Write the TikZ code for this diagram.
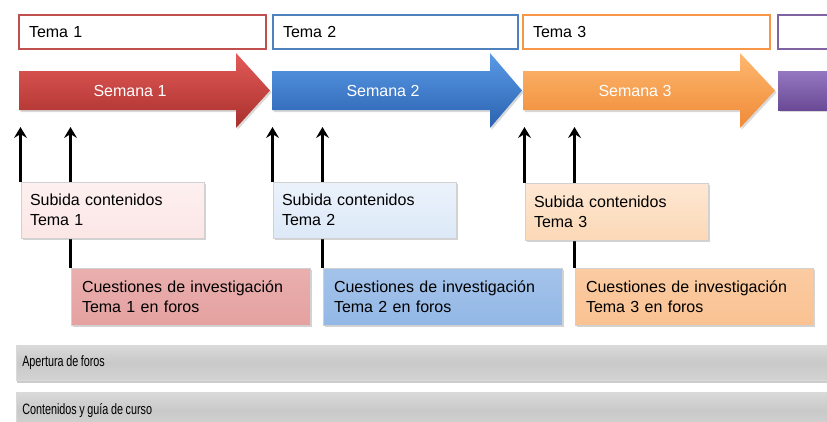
\documentclass[tikz,border=0pt]{standalone}
\usepackage{fontspec}
\usepackage{graphicx}
\setmainfont{Liberation Sans}
\usetikzlibrary{arrows.meta,shadows}
\newcommand{\narrowtext}[1]{\scalebox{0.72}[1]{\fontsize{15}{17}\selectfont\spaceskip=0.24em #1}}
\definecolor{temared}{HTML}{C0504D}
\definecolor{temablue}{HTML}{4F81BD}
\definecolor{temaorange}{HTML}{F79646}
\definecolor{temapurple}{HTML}{8064A2}
\definecolor{redtop}{HTML}{E35A57}
\definecolor{redbot}{HTML}{A8302D}
\definecolor{bluetop}{HTML}{5A9AE6}
\definecolor{bluebot}{HTML}{2A62B0}
\definecolor{orangetop}{HTML}{FDB870}
\definecolor{orangebot}{HTML}{F08A36}
\definecolor{purpletop}{HTML}{9577C0}
\definecolor{purplebot}{HTML}{6A4A96}
\definecolor{subred}{HTML}{FCE6E6}
\definecolor{subblue}{HTML}{DDE9F8}
\definecolor{suborange}{HTML}{FCD8B6}
\definecolor{qred}{HTML}{E5A1A0}
\definecolor{qblue}{HTML}{93B8E6}
\definecolor{qorange}{HTML}{FAC292}
\definecolor{graybar}{HTML}{C9C9C9}
\pgfdeclarelayer{bg}
\pgfsetlayers{bg,main}
\begin{document}
\begin{tikzpicture}[x=1pt,y=-1pt,
  font=\fontsize{16}{20}\selectfont,
  tema/.style={draw, line width=2pt, fill=white, anchor=north west, minimum height=34pt,
    inner xsep=10pt, inner ysep=0pt, align=left, outer sep=0pt},
  infobox/.style={anchor=north west, inner xsep=9pt, inner ysep=0pt, align=left, outer sep=0pt,
    draw=black!18, line width=0.6pt,
    drop shadow={opacity=0.35, shadow xshift=1.5pt, shadow yshift=-2pt}},
  semana/.style={drop shadow={opacity=0.3, shadow xshift=1.5pt, shadow yshift=-2pt}},
  semtext/.style={text=white},
  upline/.style={line width=2.7pt, -{Stealth[length=11pt,width=13pt,inset=4pt]}},
  bar/.style={anchor=north west, minimum width=830pt, inner xsep=6pt, inner ysep=0pt,
    text width=818pt, align=left, top color=graybar!70, bottom color=graybar!105!black,
    middle color=graybar, draw=black!15, line width=0.5pt,
    drop shadow={opacity=0.4, shadow xshift=1pt, shadow yshift=-2.5pt}}
]
\useasboundingbox (0,0) rectangle (827,421);
\clip (0,0) rectangle (827,421);

% Tema boxes
\node[tema, draw=temared, text width=227pt] (t1) at (19,15) {Tema 1};
\node[tema, draw=temablue, text width=225pt] (t2) at (273,15) {Tema 2};
\node[tema, draw=temaorange, text width=227pt] (t3) at (523,15) {Tema 3};
\node[tema, draw=temapurple, text width=100pt] (t4) at (778,15) {};

% Semana arrows
\path[semana, top color=redtop, bottom color=redbot]
  (19,71) -- (236,71) -- (236,53) -- (270,90.5) -- (236,128) -- (236,110) -- (19,110) -- cycle;
\node[semtext] (w1) at (130,90.5) {Semana 1};
\path[semana, top color=bluetop, bottom color=bluebot]
  (272,71) -- (490,71) -- (490,53) -- (522,90.5) -- (490,128) -- (490,110) -- (272,110) -- cycle;
\node[semtext] (w2) at (383,90.5) {Semana 2};
\path[semana, top color=orangetop, bottom color=orangebot]
  (523,71) -- (740,71) -- (740,53) -- (775,90.5) -- (740,128) -- (740,110) -- (523,110) -- cycle;
\node[semtext] (w3) at (635,90.5) {Semana 3};
\path[semana, top color=purpletop, bottom color=purplebot]
  (778,71) rectangle (840,110);

% Subida boxes
\node[infobox, top color=subred!60, bottom color=subred, text width=165pt, minimum height=56pt] (s1) at (21,182) {Subida contenidos\\Tema 1};
\node[infobox, top color=subblue!60, bottom color=subblue, text width=165pt, minimum height=56pt] (s2) at (273,182) {Subida contenidos\\Tema 2};
\node[infobox, top color=suborange!60, bottom color=suborange, text width=165pt, minimum height=57pt] (s3) at (525,183) {Subida contenidos\\Tema 3};

% Cuestiones boxes
\node[infobox, top color=qred!85, bottom color=qred, inner xsep=11pt, text width=217pt, minimum height=57pt] (q1) at (71,268) {Cuestiones de investigación\\Tema 1 en foros};
\node[infobox, top color=qblue!85, bottom color=qblue, inner xsep=11pt, text width=217pt, minimum height=57pt] (q2) at (323,268) {Cuestiones de investigación\\Tema 2 en foros};
\node[infobox, top color=qorange!85, bottom color=qorange, inner xsep=11pt, text width=216pt, minimum height=57pt] (q3) at (575,268) {Cuestiones de investigación\\Tema 3 en foros};

% Gray bars
\node[bar, minimum height=35pt] (b1) at (16,345) {\narrowtext{Apertura de foros}};
\node[bar, minimum height=36pt] (b2) at (16,392) {\narrowtext{Contenidos y guía de curso}};

% Up arrows
\coordinate (tip) at (0,127);
\begin{pgfonlayer}{bg}
\draw[upline] ([xshift=-0.5pt]s1.north west) -- ([xshift=-0.5pt]s1.north west |- tip);
\draw[upline] ([xshift=-0.5pt]q1.north west) -- ([xshift=-0.5pt]q1.north west |- tip);
\draw[upline] ([xshift=-0.5pt]s2.north west) -- ([xshift=-0.5pt]s2.north west |- tip);
\draw[upline] ([xshift=-0.5pt]q2.north west) -- ([xshift=-0.5pt]q2.north west |- tip);
\draw[upline] ([xshift=-0.5pt]s3.north west) -- ([xshift=-0.5pt]s3.north west |- tip);
\draw[upline] ([xshift=-0.5pt]q3.north west) -- ([xshift=-0.5pt]q3.north west |- tip);
\end{pgfonlayer}
\end{tikzpicture}
\end{document}
